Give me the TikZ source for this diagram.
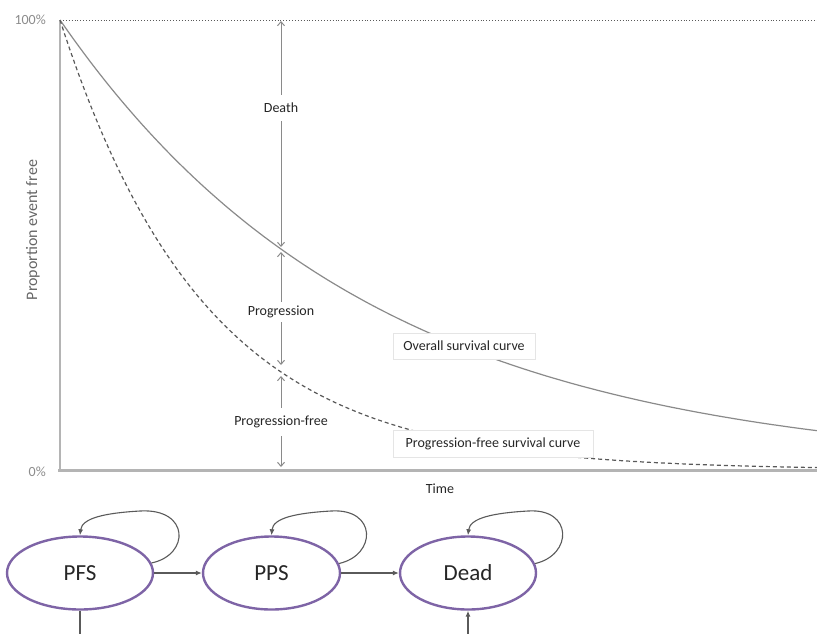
\documentclass[tikz,border=0pt]{standalone}
\usepackage{fontspec}
\setmainfont{Carlito}
\usetikzlibrary{arrows.meta,shapes.geometric}
\definecolor{axisgray}{HTML}{B4B4B4}
\definecolor{curvegray}{HTML}{8A8A8A}
\definecolor{txtgray}{HTML}{262626}
\definecolor{ticktxt}{HTML}{8C8C8C}
\definecolor{statepurple}{HTML}{7E64A6}
\definecolor{conngray}{HTML}{5A5A5A}
\begin{document}
\begin{tikzpicture}[x=1pt,y=-1pt,
  lbl/.style={font=\fontsize{14}{16}\selectfont, text=txtgray, fill=white, inner xsep=2pt, inner ysep=5pt},
  legendbox/.style={font=\fontsize{14}{16}\selectfont, text=txtgray, fill=white, draw=black!10, line width=0.6pt, inner sep=0pt, minimum height=26pt},
  ticklbl/.style={font=\fontsize{14}{16}\selectfont, text=ticktxt, inner sep=0pt},
  state/.style={ellipse, draw=statepurple, line width=2.4pt, minimum height=73pt, inner sep=0pt, font=\fontsize{23}{26}\selectfont, text=black!85},
  conn/.style={draw=conngray, line width=1.1pt, -{Latex[length=6pt,width=5pt]}},
  dblarrow/.style={draw=curvegray, line width=1pt, {Straight Barb[length=4pt,width=7pt]}-{Straight Barb[length=4pt,width=7pt]}},
]
\useasboundingbox (0,0) rectangle (817,633);
\clip (0,0) rectangle (817,633);

% axes
\coordinate (origin) at (60,470);
\coordinate (ytop) at (60,20);
\coordinate (xend) at (817,470);
\coordinate (topend) at (817,20);
\draw[conngray, dotted, line width=0.9pt] (ytop) -- (topend);
\draw[axisgray, line width=2.4pt] (ytop) -- (60,471);
\draw[axisgray, line width=3pt] (58,470) -- (xend);

\node[ticklbl, anchor=east] (p100) at (46,20) {100\%};
\node[ticklbl, anchor=east] (p0) at (46,472) {0\%};
\node[ticklbl, text=txtgray] (time) at (440,489) {Time};
\node[font=\fontsize{16}{18}\selectfont, text=black!60, rotate=90, inner sep=0pt] (ylab) at (33,230) {Proportion event free};

% curves
\draw[curvegray, line width=1.2pt] plot[domain=60:817, samples=120] (\x, {470-450*exp(-0.003217*(\x-60))});
\draw[black!65, line width=1.2pt, dash pattern=on 4pt off 3pt] plot[domain=60:817, samples=150] (\x, {470-450*exp(-0.006897*(\x-60))});

% legend boxes
\node[legendbox, minimum width=142pt] (osbox) at (464,346) {Overall survival curve};
\node[legendbox, minimum width=200pt, minimum height=27pt] (pfsbox) at (493,443.5) {Progression-free survival curve};

% double arrows
\coordinate (d1) at (281,21);
\coordinate (d2) at (281,247);
\coordinate (g1) at (281,252);
\coordinate (g2) at (281,365);
\coordinate (f1) at (281,376);
\coordinate (f2) at (281,467);
\draw[dblarrow] (d1) -- (d2);
\draw[dblarrow] (g1) -- (g2);
\draw[dblarrow] (f1) -- (f2);
\node[lbl, inner ysep=8pt] (death) at (281,108) {Death};
\node[lbl, inner ysep=4pt] (prog) at (281,312) {Progression};
\node[lbl, inner ysep=8pt] (progfree) at (281,422) {Progression-free};

% state diagram
\node[state, minimum width=146pt] (pfs) at (80,573) {PFS};
\node[state, minimum width=137pt] (pps) at (271.5,573) {PPS};
\node[state, minimum width=136pt] (dead) at (468,573) {Dead};

\draw[conn] (pfs.east) -- (pps.west);
\draw[conn] (pps.east) -- (dead.west);

\draw[conn] (pfs.8) .. controls (190,555) and (190,508) .. (140,511) .. controls (105,513) and (82,518) .. (pfs.north);
\draw[conn] (pps.8) .. controls (377,555) and (377,508) .. (331,511) .. controls (296,513) and (273,518) .. (pps.north);
\draw[conn] (dead.8) .. controls (573,555) and (573,508) .. (528,511) .. controls (493,513) and (470,518) .. (dead.north);

\coordinate (b1) at (80,634.3);
\coordinate (b2) at (468,634.3);
\draw[conn] (pfs.south) -- (b1) -- (b2) -- (dead.south);
\end{tikzpicture}
\end{document}
